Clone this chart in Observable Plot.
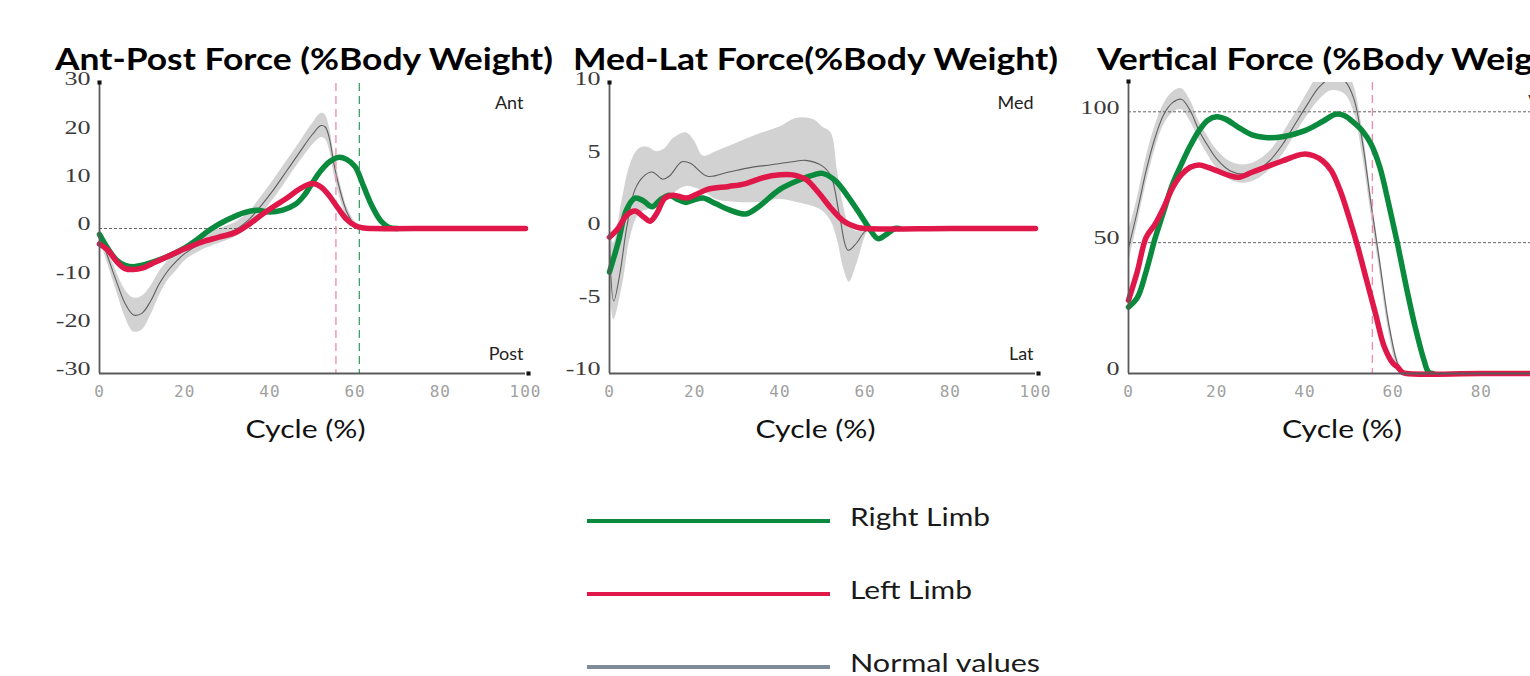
<!DOCTYPE html>
<html><head><meta charset="utf-8">
<script src="https://cdn.jsdelivr.net/npm/d3@7"></script>
<script src="https://cdn.jsdelivr.net/npm/@observablehq/plot@0.6"></script>
<style>
html,body{margin:0;padding:0;background:#fff;overflow:hidden}
#root{position:relative;width:1530px;height:676px;overflow:hidden;background:#fff}
.panel{position:absolute;top:0;height:453px}
.panel svg{max-width:none !important}
.panel svg g[aria-label="x-axis tick label"]{fill:#a0a0a0;font-family:"DejaVu Sans Mono",monospace;font-size:16px;letter-spacing:1px}
.panel svg g[aria-label="y-axis tick label"]{fill:#3a3a3a;font-family:"Liberation Serif",serif;font-size:18px}
.overlay{position:absolute;left:0;top:0}
</style></head>
<body>
<div id="root">
  <div id="p1" class="panel" style="left:0px;width:555px"></div>
  <div id="p2" class="panel" style="left:510px;width:555px"></div>
  <div id="p3" class="panel" style="left:1029px;width:570px"></div>
  <svg id="titles" class="overlay" width="1530" height="95"></svg>
  <svg id="legend" class="overlay" style="top:480px" width="1530" height="196"></svg>
</div>
<script>
// ---------- data ----------
const titles = ["Ant-Post Force (%Body Weight)", "Med-Lat Force(%Body Weight)", "Vertical Force (%Body Weight)"];
const xLabel = "Cycle (%)";
const xTicks = [0, 20, 40, 60, 80, 100];
const apTicks = [-30, -20, -10, 0, 10, 20, 30];
const mlTicks = [-10, -5, 0, 5, 10];
const vTicks = [0, 50, 100];
const apCorner = ["Ant", "Post"];
const mlCorner = ["Med", "Lat"];
const vCorner = ["Vert", ""];
const legendNames = ["Right Limb", "Left Limb", "Normal values"];

// Ant-Post: [cycle %, force]
const apRight = [[0,-1.2],[2,-4.2],[4,-6.5],[6,-7.6],[8,-7.9],[10,-7.6],[13,-6.8],[16,-5.8],[20,-4.0],[23,-2.2],[26,-0.2],[30,1.8],[34,3.3],[37,3.8],[40,3.4],[43,3.8],[46,5.0],[48,6.8],[50,9.5],[52,12.0],[54,13.8],[56,14.7],[58,14.3],[60,12.8],[62,8.7],[64,4.6],[66,1.6],[68,0.2],[70,0]];
const apLeft = [[0,-3.2],[2,-4.5],[4,-6.8],[6,-8.3],[8,-8.5],[10,-8.2],[13,-7.0],[16,-5.8],[20,-4.2],[24,-2.8],[28,-1.8],[32,-0.8],[35,0.8],[38,2.8],[41,4.6],[44,6.3],[47,8.2],[50,9.3],[52,8.6],[54,6.7],[56,4.2],[58,1.9],[60,0.6],[62,0.1],[64,0],[80,0],[100,0]];
// normal values: [cycle %, mean, sd]
const apNormal = [[0,-1,1],[2,-6,1.5],[4,-11,2],[6,-15.5,2.8],[8,-17.9,3.5],[10,-17.5,3.5],[12,-15,3],[14,-11.5,2.5],[16,-8.8,2],[18,-6.8,2],[20,-5.2,1.5],[24,-3,1.5],[28,-1.6,1.5],[32,-0.2,1.5],[35,1.8,1.5],[38,4.8,1.8],[41,8.2,2],[44,12,2],[47,15.8,2],[50,19.5,2.2],[52,21.3,2.5],[53,21,2.5],[54,18.5,2.3],[55,13.5,2],[56,9.5,1.8],[57,6.2,1.5],[58,3.5,1.2],[59,1.8,1],[60,0.6,0.8],[62,0,0.5]];
const apToeOff = {left: 55.5, right: 61};
const apRef = [0];

// Med-Lat
const mlRight = [[0,-3.0],[2,-1],[4,1.3],[6,2.1],[8,1.9],[10,1.5],[12,2.0],[14,2.3],[16,2.0],[18,1.8],[20,2.0],[22,2.1],[25,1.7],[28,1.3],[32,1.0],[35,1.5],[40,2.7],[45,3.4],[48,3.7],[50,3.8],[53,3.3],[56,2.2],[59,0.9],[61,0],[63,-0.7],[65,-0.4],[67,0],[68,0]];
const mlLeft = [[0,-0.6],[2,0],[4,0.9],[6,1.2],[8,0.8],[9.5,0.5],[11,1.0],[13,2.1],[15,2.3],[18,2.1],[20,2.3],[23,2.7],[28,2.9],[32,3.1],[36,3.5],[40,3.7],[43,3.7],[46,3.4],[49,2.5],[52,1.4],[55,0.5],[58,0.1],[60,0],[80,0],[100,0]];
const mlMean = [[0,-1],[1,-5],[2.5,-3],[4,0],[6,2.7],[8,3.6],[10,3.9],[12.5,3.4],[14,3.6],[17,4.6],[19,4.5],[23,3.6],[28,3.9],[33,4.2],[38,4.4],[43,4.6],[46,4.7],[50,4.3],[52,3.6],[54,0.9],[56,-1.5],[58,-1.0],[60,-0.2],[62,0]];
// [cycle %, lower, upper]
const mlBand = [[0,-3,0],[1,-6.3,-1],[3,-4,2],[5,-0.5,4.5],[7,1.0,5.5],[9,1.3,5.6],[11,1.5,5.3],[13,1.8,5.5],[15,2.4,6.2],[18,2.9,6.6],[20,2.8,6.0],[22,2.6,5.0],[25,2.0,5.3],[30,1.8,5.9],[35,1.8,6.5],[40,2.0,7.0],[44,1.8,7.6],[48,1.5,7.5],[50,1.2,7.0],[52,0.5,6.6],[53.5,-0.8,4.0],[55,-2.8,1.5],[56.3,-3.7,0.2],[58,-2.5,-0.2],[60,-0.6,0],[61,0,0]];

// Vertical
const vRight = [[0,25.4],[2,29],[4,39],[6,51.5],[8,62],[10,72.4],[12,80],[14,87],[16,92.8],[18,96.8],[20,98.1],[22,97.2],[25,94],[28,91.2],[31,90.2],[35,90.5],[40,92.8],[44,96.3],[47,99.1],[49,98.5],[51,96],[53,92.8],[55,87.7],[57,78.8],[59,64.8],[61,49.6],[63,33],[65,17.8],[67,5.1],[68,0.6],[69,0]];
const vLeft = [[0,28],[2,39],[4,52],[6,57],[8,63.5],[10,71],[12,76],[14,78.8],[16,79.7],[18,78.8],[20,77.5],[23,75.6],[25,75],[28,76.9],[31,78.8],[35,81.3],[38,83.2],[40,83.9],[42,83.2],[44,81.3],[46,77.5],[48,69.9],[50,59.7],[52,48.3],[54,35.6],[56,22.9],[58,10.2],[60,3.8],[61,2.5],[62,0.6],[63,0],[80,0],[100,0]];
const vNormal = [[0,48,6],[2,62,5],[4,77.5,5],[6,90,4.5],[8,99,4],[10,103.5,4],[12,104.8,4],[14,100.4,4],[16,92.8,3.5],[18,87,3.5],[20,82,3.5],[23,77.5,3.5],[26,76.2,3.5],[29,77.5,3.5],[32,81.3,3.5],[35,87.7,4],[38,95.9,4],[41,104,4.5],[43,109,5],[46,113,5],[49,111.8,5],[51,105.5,5],[53,89,5],[55,64.8,4],[57,42,3.5],[59,19,3],[61,3.8,2],[62,1,1],[63,0,0.5]];
const vToeOff = {left: 55.3};
const vRef = [50, 100];

// ---------- styles ----------
const C = {right: "#0a8a3c", left: "#e0184a", band: "#d2d2d2", mean: "#5e5e5e",
  rightDash: "#3aa266", leftDash: "#f08aa6", axis: "#5a5a5a", legendNormal: "#7e8c9a"};
const FONT = "Lato, 'Open Sans', sans-serif";

function panel({right, left, mean, band, yDomain, yTicks, toe, refs, corner, marginTop, width, plotWidth, cornerDx}) {
  const marks = [
    Plot.areaY(band, {x: d => d[0], y1: d => d[1], y2: d => d[2], fill: C.band, curve: "catmull-rom", clip: true}),
    Plot.ruleY(refs, {stroke: "#555", strokeWidth: 0.9, strokeDasharray: "3,2"}),
    Plot.line(mean, {x: d => d[0], y: d => d[1], stroke: C.mean, strokeWidth: 1.1, curve: "catmull-rom", clip: true}),
  ];
  if (toe.left != null) marks.push(Plot.ruleX([toe.left], {stroke: C.leftDash, strokeWidth: 1.3, strokeDasharray: "8,5"}));
  if (toe.right != null) marks.push(Plot.ruleX([toe.right], {stroke: C.rightDash, strokeWidth: 1.3, strokeDasharray: "8,5"}));
  marks.push(
    Plot.line(right, {x: d => d[0], y: d => d[1], stroke: C.right, strokeWidth: 5.5, curve: "catmull-rom", strokeLinecap: "round"}),
    Plot.line(left, {x: d => d[0], y: d => d[1], stroke: C.left, strokeWidth: 5.5, curve: "catmull-rom", strokeLinecap: "round"}),
    Plot.ruleX([0], {stroke: C.axis, strokeWidth: 1.8}),
    Plot.ruleY([yDomain[0]], {stroke: C.axis, strokeWidth: 2}),
    Plot.dot([[0, yDomain[1]]], {x: d => d[0], y: d => d[1], symbol: "square", r: 2.3, fill: "#111", dy: -1}),
    Plot.dot([[100, yDomain[0]]], {x: d => d[0], y: d => d[1], symbol: "square", r: 2.3, fill: "#111", dx: 3}),
    Plot.axisX({ticks: xTicks, tickSize: 0, tickPadding: 12, tickFormat: d => String(d), label: null}),
    Plot.axisY({ticks: yTicks, tickSize: 0, tickPadding: 9, dy: -4, tickFormat: d => String(d), label: null}),
    Plot.text([corner[0]], {text: d => d, frameAnchor: "top-right", dx: cornerDx, dy: 13, fontSize: 18, fontFamily: FONT, fill: "#222"}),
    Plot.text([corner[1]], {text: d => d, frameAnchor: "bottom-right", dx: cornerDx, dy: -14, fontSize: 18, fontFamily: FONT, fill: "#222"}),
    Plot.text([xLabel], {text: d => d, frameAnchor: "bottom", dx: -7, dy: 64, fontSize: 25, fontFamily: FONT, fill: "#111"})
  );
  return Plot.plot({
    width, height: 453, marginLeft: 99, marginRight: width - 99 - plotWidth,
    marginTop, marginBottom: 80,
    style: {background: "transparent", overflow: "visible", maxWidth: "none"},
    x: {domain: [0, 100]},
    y: {domain: yDomain},
    marks
  });
}

const bandFrom = arr => arr.map(([x, m, s]) => [x, m - s, m + s]);

const p1 = panel({right: apRight, left: apLeft, mean: apNormal, band: bandFrom(apNormal), yDomain: [-30, 30], yTicks: apTicks, toe: apToeOff, refs: apRef, corner: apCorner, marginTop: 83, width: 555, plotWidth: 426, cornerDx: -2});
const p2 = panel({right: mlRight, left: mlLeft, mean: mlMean, band: mlBand, yDomain: [-10, 10], yTicks: mlTicks, toe: {}, refs: [], corner: mlCorner, marginTop: 83, width: 555, plotWidth: 426, cornerDx: -2});
const p3 = panel({right: vRight, left: vLeft, mean: vNormal, band: bandFrom(vNormal), yDomain: [0, 111.2], yTicks: vTicks, toe: vToeOff, refs: vRef, corner: vCorner, marginTop: 82, width: 570, plotWidth: 441, cornerDx: -8});
document.getElementById("p1").append(p1);
document.getElementById("p2").append(p2);
document.getElementById("p3").append(p3);

for (const svg of [p1, p2, p3]) {
  // stretch the x-axis label to the reference width
  d3.select(svg).selectAll("text").filter(function () { return this.textContent === xLabel; })
    .attr("textLength", 120).attr("lengthAdjust", "spacingAndGlyphs");
  // widen the serif y tick labels like the reference
  d3.select(svg).selectAll('g[aria-label="y-axis tick label"] text').each(function () {
    const w = this.getComputedTextLength();
    d3.select(this).attr("textLength", w * 1.45).attr("lengthAdjust", "spacingAndGlyphs");
  });
}

// ---------- titles ----------
const tSvg = d3.select("#titles");
const tPos = [55, 573, 1097];
const tWidth = [498, 485, null];
const tNodes = titles.map((t, i) => tSvg.append("text").attr("x", tPos[i]).attr("y", 70)
  .attr("font-family", FONT).attr("font-weight", "bold").attr("font-size", 31).attr("fill", "#000").text(t));
const factors = [];
tNodes.forEach((n, i) => {
  if (tWidth[i]) {
    const nat = n.node().getComputedTextLength();
    factors.push(tWidth[i] / nat);
    n.attr("textLength", tWidth[i]).attr("lengthAdjust", "spacingAndGlyphs");
  }
});
{
  const n = tNodes[2];
  const nat = n.node().getComputedTextLength();
  n.attr("textLength", nat * d3.mean(factors)).attr("lengthAdjust", "spacingAndGlyphs");
}

// ---------- legend ----------
const lSvg = d3.select("#legend");
const lColors = [C.right, C.left, C.legendNormal];
const lWidths = [140, 122, 190];
legendNames.forEach((name, i) => {
  const y = 41 + i * 73;
  lSvg.append("line").attr("x1", 587).attr("x2", 830).attr("y1", y).attr("y2", y)
    .attr("stroke", lColors[i]).attr("stroke-width", 4);
  lSvg.append("text").attr("x", 850).attr("y", y + 5).attr("font-family", FONT).attr("font-size", 25)
    .attr("fill", "#1a1a1a").attr("textLength", lWidths[i]).attr("lengthAdjust", "spacingAndGlyphs").text(name);
});
</script>
</body></html>
